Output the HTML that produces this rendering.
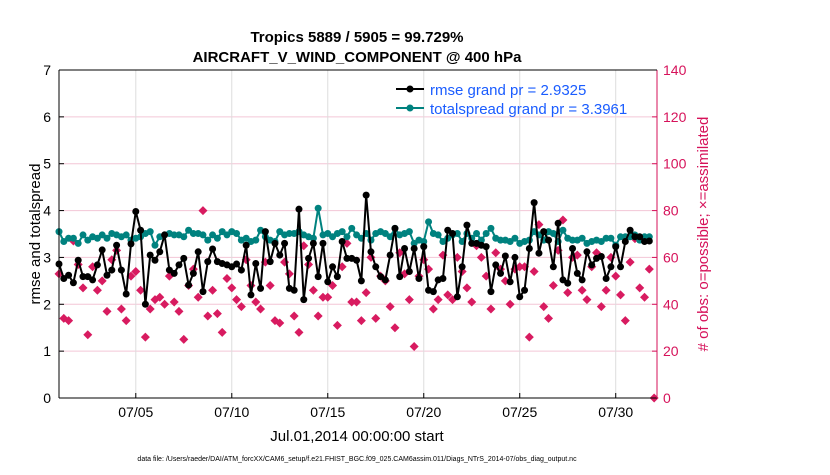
<!DOCTYPE html>
<html><head><meta charset="utf-8"><style>
body{margin:0;background:#fff;font-family:"Liberation Sans",sans-serif;}
svg text{font-family:"Liberation Sans",sans-serif;}
</style></head><body>
<svg id="c" width="830" height="470">
<text x="357" y="42" text-anchor="middle" font-size="15" font-weight="bold">Tropics 5889 / 5905 = 99.729%</text>
<text x="357" y="62" text-anchor="middle" font-size="15" font-weight="bold">AIRCRAFT_V_WIND_COMPONENT @ 400 hPa</text>
<text transform="translate(40,234) rotate(-90)" text-anchor="middle" font-size="15">rmse and totalspread</text>
<text transform="translate(708,234) rotate(-90)" text-anchor="middle" font-size="15" fill="#d6125a"># of obs: o=possible; ×=assimilated</text>
<text x="357" y="441" text-anchor="middle" font-size="15">Jul.01,2014 00:00:00 start</text>
<text x="357" y="461" text-anchor="middle" font-size="7">data file: /Users/raeder/DAI/ATM_forcXX/CAM6_setup/f.e21.FHIST_BGC.f09_025.CAM6assim.011/Diags_NTrS_2014-07/obs_diag_output.nc</text>
<g id="grid"></g><g id="marks"></g><g id="axes"></g>
<g>
<line x1="396" y1="89" x2="424" y2="89" stroke="#000" stroke-width="2"/><circle cx="410" cy="89" r="3.5" fill="#000"/>
<text x="430" y="95" font-size="15" fill="#1a5cff">rmse grand pr = 2.9325</text>
<line x1="396" y1="108" x2="424" y2="108" stroke="#00827f" stroke-width="2"/><circle cx="410" cy="108" r="3.5" fill="#00827f"/>
<text x="430" y="114" font-size="15" fill="#1a5cff">totalspread grand pr = 3.3961</text>
</g>
</svg>
<script>
const rmse=[2.86,2.55,2.62,2.46,2.94,2.59,2.59,2.52,2.84,3.16,2.62,2.73,3.26,2.73,2.22,3.29,3.98,3.58,2.0,3.05,2.94,3.12,3.48,2.73,2.66,2.84,2.98,2.41,2.66,3.12,2.27,2.91,3.18,2.91,2.87,2.84,2.8,2.86,2.73,3.26,2.2,2.87,2.34,3.55,2.91,3.3,3.05,3.3,2.34,2.3,4.03,2.1,2.98,3.3,2.59,3.3,2.48,2.8,2.59,3.34,2.98,2.98,2.94,2.5,4.33,3.12,2.8,2.59,2.52,3.05,3.62,2.59,3.19,2.7,3.19,2.55,3.23,2.3,2.27,2.52,2.55,3.58,3.51,2.16,2.8,3.69,3.3,3.3,3.26,3.23,2.27,2.84,2.66,3.03,2.48,3.0,2.16,2.3,3.19,4.17,3.09,3.55,3.37,2.8,3.73,2.52,2.45,3.19,2.66,2.52,3.12,2.84,2.98,3.02,2.55,2.8,3.23,2.8,3.34,3.58,3.44,3.44,3.34,3.35];
const spread=[3.55,3.34,3.41,3.41,3.3,3.48,3.37,3.44,3.41,3.48,3.41,3.51,3.48,3.44,3.48,3.37,3.41,3.44,3.51,3.55,3.26,3.44,3.48,3.51,3.48,3.48,3.44,3.58,3.51,3.51,3.48,3.37,3.48,3.41,3.55,3.48,3.55,3.51,3.37,3.41,3.34,3.37,3.58,3.44,3.37,3.34,3.55,3.48,3.51,3.51,3.55,3.48,3.44,3.41,4.05,3.48,3.51,3.44,3.51,3.55,3.44,3.62,3.48,3.41,3.51,3.37,3.51,3.55,3.51,3.44,3.62,3.48,3.51,3.55,3.3,3.37,3.34,3.76,3.51,3.48,3.34,3.41,3.48,3.51,3.34,3.51,3.41,3.51,3.37,3.51,3.62,3.41,3.37,3.37,3.34,3.41,3.3,3.34,3.37,3.55,3.48,3.37,3.55,3.51,3.34,3.58,3.41,3.37,3.37,3.41,3.3,3.34,3.37,3.34,3.41,3.41,3.26,3.44,3.44,3.44,3.48,3.37,3.44,3.44];
const assim=[53,34,33,67,57,47,27,56,46,50,37,59,63,38,33,52,54,46,26,38,42,43,40,52,41,37,25,48,55,43,80,35,46,36,28,51,47,42,39,59,48,41,38,58,48,33,32,58,53,35,28,65,57,46,35,43,43,48,31,56,66,41,41,33,45,60,34,52,50,39,30,62,53,42,22,52,59,55,38,42,61,44,42,60,54,47,41,65,60,52,38,62,55,50,40,55,56,56,26,54,74,39,34,48,63,76,45,60,61,46,42,56,62,39,46,60,52,44,33,58,68,47,43,55,0];
const xTicks=["07/05","07/10","07/15","07/20","07/25","07/30"];
const xTickDays=[4,9,14,19,24,29];
const yTicks=[0,1,2,3,4,5,6,7];
const rTicks=[0,20,40,60,80,100,120,140];
const NS="http://www.w3.org/2000/svg";
const L=59,R=657,T=70,B=398,XMAX=31.15;
const X=d=>L+d/XMAX*(R-L);
const Y=v=>B-v/7*(B-T);
const YR=c=>B-c/140*(B-T);
function mk(tag,attrs,parent){const e=document.createElementNS(NS,tag);for(const k in attrs)e.setAttribute(k,attrs[k]);parent.appendChild(e);return e;}
const grid=document.getElementById('grid'),marks=document.getElementById('marks'),axes=document.getElementById('axes');
rTicks.forEach(c=>{const g=mk('line',{x1:L,x2:R,y1:YR(c),y2:YR(c),stroke:'#f3c6d6','stroke-width':1},grid);

});
xTickDays.forEach((d,i)=>{const g=mk('line',{x1:X(d),x2:X(d),y1:T,y2:B,stroke:'#dddddd','stroke-width':1},grid);


const t=mk('text',{x:X(d),y:B+19,'text-anchor':'middle','font-size':14},axes);t.textContent=xTicks[i];


mk('line',{x1:X(d),x2:X(d),y1:B,y2:B-5,stroke:'#000'},axes);});
yTicks.forEach(v=>{const t=mk('text',{x:L-8,y:Y(v)+5,'text-anchor':'end','font-size':14},axes);t.textContent=v;


mk('line',{x1:L,x2:L+5,y1:Y(v),y2:Y(v),stroke:'#000'},axes);});
rTicks.forEach(c=>{const t=mk('text',{x:R+6,y:YR(c)+5,'font-size':14,fill:'#d6125a'},axes);t.textContent=c;


mk('line',{x1:R,x2:R-5,y1:YR(c),y2:YR(c),stroke:'#d6125a'},axes);});
const la=mk('line',{x1:L,x2:L,y1:T,y2:B,stroke:'#000'},axes);


const lb=mk('line',{x1:L,x2:R,y1:B,y2:B,stroke:'#000'},axes);


const lr=mk('line',{x1:R,x2:R,y1:T,y2:B,stroke:'#d6125a'},axes);


mk('line',{x1:L,x2:R,y1:T,y2:T,stroke:'#000'},axes);
assim.forEach((c,i)=>{const x=X(i*0.25),y=YR(c);
const g=mk('path',{d:`M${x} ${y-4.5}L${x+4.5} ${y}L${x} ${y+4.5}L${x-4.5} ${y}Z`,fill:'#d81b60'},marks);

});
function series(arr,col,name){
const p=mk('polyline',{points:arr.map((v,i)=>X(i*0.25)+','+Y(v)).join(' '),fill:'none',stroke:col,'stroke-width':2},marks);


arr.forEach((v,i)=>{const c=mk('circle',{cx:X(i*0.25),cy:Y(v),r:3.5,fill:col},marks);

});}
series(spread,'#00827f','totalspread');
series(rmse,'#000000','rmse');
</script>
</body></html>
